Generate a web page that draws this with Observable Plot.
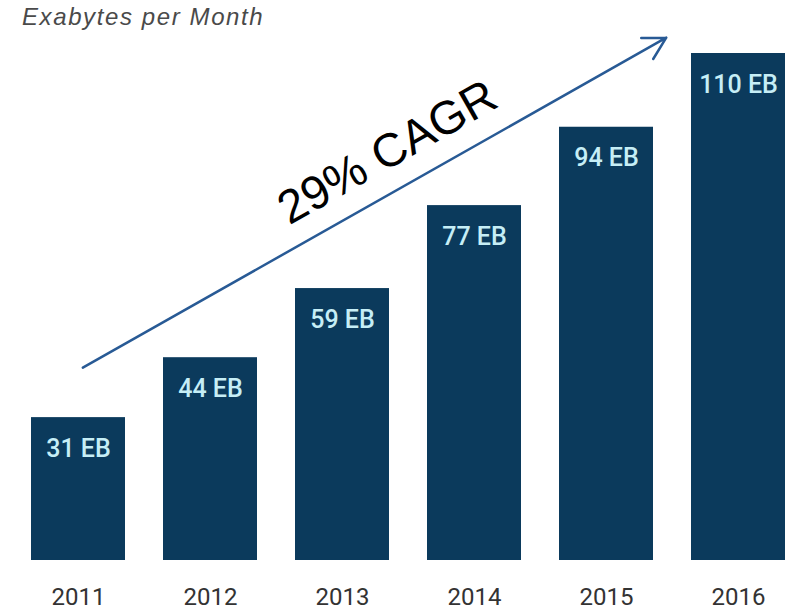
<!DOCTYPE html>
<html>
<head>
<meta charset="utf-8">
<script src="https://cdn.jsdelivr.net/npm/d3@7"></script>
<script src="https://cdn.jsdelivr.net/npm/@observablehq/plot@0.6"></script>
<style>
  html, body { margin: 0; padding: 0; background: #fff; }
  #wrap { position: relative; width: 790px; height: 611px; }
  #title { position: absolute; left: 22px; top: 3px; font-family: "Liberation Sans", Arial, sans-serif; font-style: italic; font-size: 24px; letter-spacing: 1.6px; color: #4a4a4a; }
</style>
</head>
<body>
<div id="wrap">
  <div id="title">Exabytes per Month</div>
</div>
<script>
const years = ["2011", "2012", "2013", "2014", "2015", "2016"];
const traffic = [31, 44, 59, 77, 94, 110];
const valueLabels = ["31 EB", "44 EB", "59 EB", "77 EB", "94 EB", "110 EB"];
const cagrLabel = "29% CAGR";
// annotation arrow endpoints (category, value)
const arrowFrom = ["2011", 41.3];
const arrowTo = ["2016", 122.3];
const cagrAnchor = ["2013", 88.5];

const data = years.map((y, i) => ({year: y, value: traffic[i], label: valueLabels[i]}));

const chart = Plot.plot({
  width: 790,
  height: 611,
  marginLeft: 28,
  marginRight: 2,
  marginTop: 53,
  marginBottom: 51,
  style: {fontFamily: "Roboto, 'Liberation Sans', Arial, sans-serif", background: "transparent"},
  x: {domain: years, paddingInner: 0.2857, paddingOuter: 0, label: null},
  y: {domain: [0, 110], axis: null},
  marks: [
    Plot.barY(data, {x: "year", y: "value", fill: "#0b3a5c"}),
    Plot.text(data, {x: "year", y: "value", text: "label", dy: 31, lineAnchor: "middle", fill: "#c6eef6", fontSize: 25, fontWeight: 500}),
    Plot.axisX({tickSize: 0, tickPadding: 27, fontSize: 24, fill: "#333", label: null}),
    Plot.arrow([{x1: arrowFrom[0], y1: arrowFrom[1], x2: arrowTo[0], y2: arrowTo[1]}], {
      x1: "x1", y1: "y1", x2: "x2", y2: "y2",
      stroke: "#285a95", strokeWidth: 2.5, insetStart: 5, insetEnd: 83, headLength: 15, headAngle: 58
    }),
    Plot.text([cagrAnchor], {x: d => d[0], y: d => d[1], text: [cagrLabel], dx: 45, rotate: -29.5, fontSize: 47, fill: "#000", fontFamily: "'Liberation Sans', Arial, sans-serif", lineAnchor: "middle"})
  ]
});
chart.style.position = "absolute";
chart.style.left = "0";
chart.style.top = "0";
document.getElementById("wrap").appendChild(chart);
</script>
</body>
</html>
